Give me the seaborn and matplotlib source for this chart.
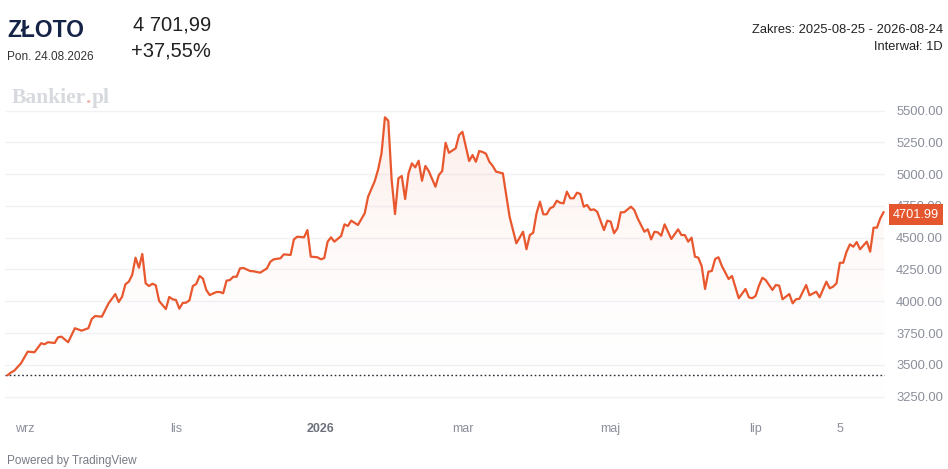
import numpy as np
import pandas as pd
import matplotlib
matplotlib.use("Agg")
import matplotlib.pyplot as plt
import matplotlib.transforms as mtransforms
from matplotlib.colors import LinearSegmentedColormap
import seaborn as sns

# ---------------- data ----------------
start_date = "2025-08-25"
end_date = "2026-08-24"
# trading-session number (weekday count since 2025-08-25)
sessions = [
    0, 1, 2, 4, 6, 8, 10, 11, 12, 14,
    15, 16, 18, 20, 22, 24, 25, 26, 28, 30,
    32, 33, 34, 35, 36, 37, 38, 39, 40, 41,
    42, 43, 44, 45, 47, 48, 49, 50, 51, 52,
    53, 54, 55, 56, 57, 58, 59, 60, 62, 63,
    64, 65, 66, 67, 68, 69, 70, 72, 73, 75,
    77, 78, 79, 81, 82, 84, 85, 86, 88, 89,
    90, 92, 93, 94, 95, 96, 97, 99, 100, 101,
    102, 104, 106, 107, 109, 110, 111, 112, 113, 114,
    115, 116, 117, 118, 119, 120, 121, 122, 123, 124,
    125, 127, 128, 129, 130, 131, 133, 134, 135, 137,
    138, 139, 140, 141, 142, 143, 144, 145, 147, 149,
    151, 153, 154, 155, 156, 157, 158, 159, 160, 161,
    162, 163, 164, 165, 166, 167, 168, 169, 170, 171,
    172, 173, 174, 175, 177, 178, 179, 180, 181, 182,
    183, 185, 186, 187, 189, 190, 191, 192, 193, 194,
    195, 197, 199, 200, 201, 202, 203, 204, 205, 206,
    207, 208, 209, 210, 211, 212, 214, 215, 217, 219,
    220, 221, 222, 223, 224, 225, 227, 228, 229, 230,
    232, 233, 234, 235, 237, 238, 240, 241, 243, 244,
    245, 246, 247, 248, 249, 250, 251, 252, 253, 255,
    256, 257, 258, 259, 260,
]
prices = [
    3418, 3439, 3454, 3512, 3604, 3599, 3670, 3662, 3678, 3672,
    3717, 3722, 3678, 3788, 3769, 3788, 3861, 3884, 3879, 3984,
    4057, 3994, 4036, 4134, 4154, 4207, 4343, 4264, 4372, 4141,
    4120, 4138, 4126, 4002, 3939, 4034, 4016, 4010, 3942, 3987,
    3989, 4008, 4120, 4136, 4199, 4178, 4089, 4049, 4073, 4073,
    4063, 4162, 4167, 4193, 4193, 4259, 4262, 4238, 4236, 4225,
    4259, 4311, 4330, 4338, 4369, 4364, 4487, 4508, 4503, 4560,
    4351, 4346, 4330, 4340, 4469, 4503, 4469, 4513, 4605, 4592,
    4634, 4600, 4692, 4822, 4946, 5038, 5164, 5447, 5420, 4954,
    4686, 4967, 4985, 4804, 5006, 5085, 5053, 5105, 4948, 5064,
    5024, 4901, 4993, 5024, 5247, 5168, 5203, 5307, 5333, 5103,
    5150, 5097, 5182, 5174, 5160, 5097, 5064, 5019, 5006, 4665,
    4456, 4547, 4409, 4521, 4539, 4692, 4783, 4684, 4684, 4731,
    4744, 4791, 4775, 4770, 4862, 4810, 4810, 4854, 4844, 4744,
    4757, 4718, 4723, 4704, 4560, 4634, 4626, 4535, 4574, 4700,
    4700, 4744, 4718, 4652, 4547, 4566, 4487, 4547, 4542, 4516,
    4605, 4490, 4566, 4521, 4521, 4469, 4500, 4351, 4343, 4277,
    4097, 4233, 4238, 4333, 4346, 4277, 4175, 4199, 4024, 4097,
    4031, 4024, 4042, 4123, 4185, 4167, 4089, 4128, 4123, 4016,
    4057, 3984, 4016, 4020, 4128, 4047, 4075, 4031, 4154, 4102,
    4115, 4141, 4303, 4303, 4390, 4448, 4429, 4466, 4409, 4469,
    4390, 4579, 4579, 4652, 4701.99,
]
base_price = 3418.44
last_price = 4701.99
month_dates = ["2025-09-01", "2025-11-03", "2026-01-01", "2026-03-02",
               "2026-05-01", "2026-07-01", "2026-08-05"]
month_labels = ["wrz", "lis", "2026", "mar", "maj", "lip", "5"]
y_ticks = [3250, 3500, 3750, 4000, 4250, 4500, 4750, 5000, 5250, 5500]

# ---------------- styling ----------------
LINE = "#e8572e"
GRID = "#f0f2f6"
TICK = "#8a8f9b"

sns.set_theme(style="white")
plt.rcParams["font.family"] = ["Liberation Sans", "DejaVu Sans"]

trading_days = pd.bdate_range(start_date, end_date)
df = pd.DataFrame({
    "date": trading_days[sessions],
    "session": sessions,
    "price": prices,
})
tick_pos = trading_days.searchsorted(pd.to_datetime(month_dates))

W, H = 948, 469
fig = plt.figure(figsize=(W / 100, H / 100), dpi=100)
fig.patch.set_facecolor("white")
ax = fig.add_axes([5 / W, 1 - 410 / H, 880 / W, 317 / H])
ax.set_facecolor("white")

ax.set_xlim(-0.74, 260.4)
ax.set_ylim(3145, 5638)

# gridlines
for yv in y_ticks:
    ax.axhline(yv, color=GRID, lw=1, zorder=0)

# gradient fill below the line
ymin, ymax = ax.get_ylim()
poly = ax.fill_between(df["session"], df["price"], ymin, color="none", lw=0)
cmap = LinearSegmentedColormap.from_list(
    "g", [(1, 1, 1, 0), (0.91, 0.34, 0.18, 0.11)])
grad = np.linspace(0, 1, 256).reshape(-1, 1)
im = ax.imshow(grad, cmap=cmap, aspect="auto", origin="lower",
               extent=[df["session"].min(), df["session"].max(), ymin, 5450],
               zorder=1)
im.set_clip_path(poly.get_paths()[0], transform=ax.transData)

# baseline
ax.axhline(base_price, color="#2a2e39", lw=1, ls=(0, (1.2, 1.8)), zorder=2)

sns.lineplot(data=df, x="session", y="price", ax=ax, color=LINE, lw=1.6,
             zorder=3, legend=False)

ax.set_xlabel("")
ax.set_ylabel("")
for s in ax.spines.values():
    s.set_visible(False)

ax.set_xticks(tick_pos)
ax.set_xticklabels(month_labels)
ax.tick_params(axis="x", length=0, pad=9, labelsize=9, colors=TICK)
for lbl in ax.get_xticklabels():
    if lbl.get_text() == "2026":
        lbl.set_fontweight("bold")
        lbl.set_color("#6d717c")

ax.yaxis.tick_right()
ax.set_yticks(y_ticks)
ax.set_yticklabels([f"{v:.2f}" for v in y_ticks])
ax.tick_params(axis="y", length=0, pad=8, labelsize=9.4, colors=TICK)

# last price tag (covers most of the 4750.00 label, as in the source)
trans = mtransforms.blended_transform_factory(ax.transAxes, ax.transData)
ax.text(1.0 + 8 / 880, last_price - 20, f"{last_price:.2f}", transform=trans,
        ha="left", va="center", fontsize=9.2, color="white", zorder=10,
        clip_on=False,
        bbox=dict(boxstyle="square,pad=0.32", fc="#e4572e", ec="none"))

# header texts
fig.text(7 / W, 1 - 30 / H, "ZŁOTO", fontsize=16.5, fontweight="bold",
         color="#152347", va="center", ha="left")
fig.text(7 / W, 1 - 57 / H, "Pon. 24.08.2026", fontsize=8.5,
         color="#333333", va="center", ha="left")
fig.text(133 / W, 1 - 25 / H, "4 701,99", fontsize=14.5, color="#222222",
         va="center", ha="left")
fig.text(131 / W, 1 - 51 / H, "+37,55%", fontsize=14.5, color="#222222",
         va="center", ha="left")
fig.text(943 / W, 1 - 30 / H, "Zakres: 2025-08-25 - 2026-08-24",
         fontsize=9.3, color="#222222", va="center", ha="right")
fig.text(943 / W, 1 - 47 / H, "Interwał: 1D", fontsize=9.3,
         color="#222222", va="center", ha="right")

# watermark "Bankier.pl" built from pieces measured with the renderer
renderer = fig.canvas.get_renderer()
xw = 12 / W
for piece, col in [("Bankier", "#d6d9de"), (".", "#f2b8ac"), ("pl", "#d6d9de")]:
    t = fig.text(xw, 1 - 98 / H, piece, fontsize=15.5, fontweight="bold",
                 family="Liberation Serif", color=col, va="center", ha="left")
    bb = t.get_window_extent(renderer)
    xw += bb.width / W

fig.text(7 / W, 1 - 461 / H, "Powered by TradingView", fontsize=8.5,
         color="#787b86", va="center", ha="left")

fig.savefig("out.png", dpi=100, facecolor="white")
